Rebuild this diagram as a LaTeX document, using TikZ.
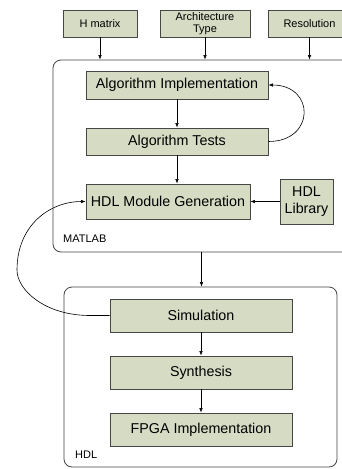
\documentclass[tikz,border=0pt]{standalone}
\usepackage{fontspec}
\setmainfont{Liberation Sans}
\usetikzlibrary{arrows.meta}
\definecolor{boxfill}{RGB}{214,220,196}
\definecolor{edgec}{RGB}{70,70,70}
\begin{document}
\begin{tikzpicture}[x=1pt,y=-1pt,
  box/.style={draw=edgec, fill=boxfill, line width=0.8pt, inner sep=0pt, align=center, font=\fontsize{14.3}{16.5}\selectfont},
  smallbox/.style={box, font=\fontsize{11}{12}\selectfont},
  cont/.style={draw=edgec, line width=0.8pt, rounded corners=8pt, inner sep=0pt},
  arr/.style={-{Latex[length=4.5pt,width=3.5pt]}, line width=0.6pt, draw=black},
  lbl/.style={font=\fontsize{11}{12}\selectfont, anchor=west, inner sep=0pt}]
\useasboundingbox (0,0) rectangle (342,469);
\fill[white] (0,0) rectangle (342,469);
% containers
\node[cont, minimum width=297pt, minimum height=192pt] (matlab) at (201.5,156) {};
\node[cont, minimum width=273pt, minimum height=180pt] (hdl) at (200.5,377) {};
\node[lbl] (matlabl) at (63,239) {MATLAB};
\node[lbl] (hdll) at (75,455) {HDL};
% top inputs
\node[smallbox, minimum width=74pt, minimum height=27pt] (hm) at (100,23.5) {H matrix};
\node[smallbox, minimum width=90pt, minimum height=27pt] (arch) at (205,23.5) {Architecture\\Type};
\node[smallbox, minimum width=82pt, minimum height=27pt] (res) at (309.5,23.5) {Resolution};
% matlab boxes
\node[box, minimum width=182pt, minimum height=28pt] (impl) at (177,85) {Algorithm Implementation};
\node[box, minimum width=182pt, minimum height=27pt] (tests) at (177,141.5) {Algorithm Tests};
\node[box, minimum width=164pt, minimum height=35pt] (gen) at (168,201.5) {HDL Module Generation};
\node[box, minimum width=53pt, minimum height=45pt] (lib) at (306.5,201.5) {HDL\\Library};
% hdl boxes
\node[box, minimum width=182pt, minimum height=33pt] (sim) at (201,315.5) {Simulation};
\node[box, minimum width=182pt, minimum height=33pt] (syn) at (201,372.5) {Synthesis};
\node[box, minimum width=182pt, minimum height=33pt] (fpga) at (201,429.5) {FPGA Implementation};
% arrows
\draw[arr] (hm.south) -- (hm.south |- matlab.north);
\draw[arr] (arch.south) -- (arch.south |- matlab.north);
\draw[arr] (res.south) -- (res.south |- matlab.north);
\draw[arr] (impl.south) -- (tests.north);
\draw[arr] (tests.south) -- (tests.south |- gen.north);
\draw[arr] (lib.west) -- (gen.east);
\draw[arr] (tests.east) .. controls +(47,0) and +(47,0) .. (impl.east);
\draw[arr] (matlab.south) -- (matlab.south |- hdl.north);
\draw[arr] (sim.south) -- (syn.north);
\draw[arr] (syn.south) -- (fpga.north);
\coordinate (c1) at (90,315.5);
\coordinate (c2) at (17,270);
\draw[arr] (sim.west) -- (c1) .. controls (45,315.5) and (17,290) .. (c2) .. controls (17,225) and (50,201.5) .. (gen.west);
\end{tikzpicture}
\end{document}
